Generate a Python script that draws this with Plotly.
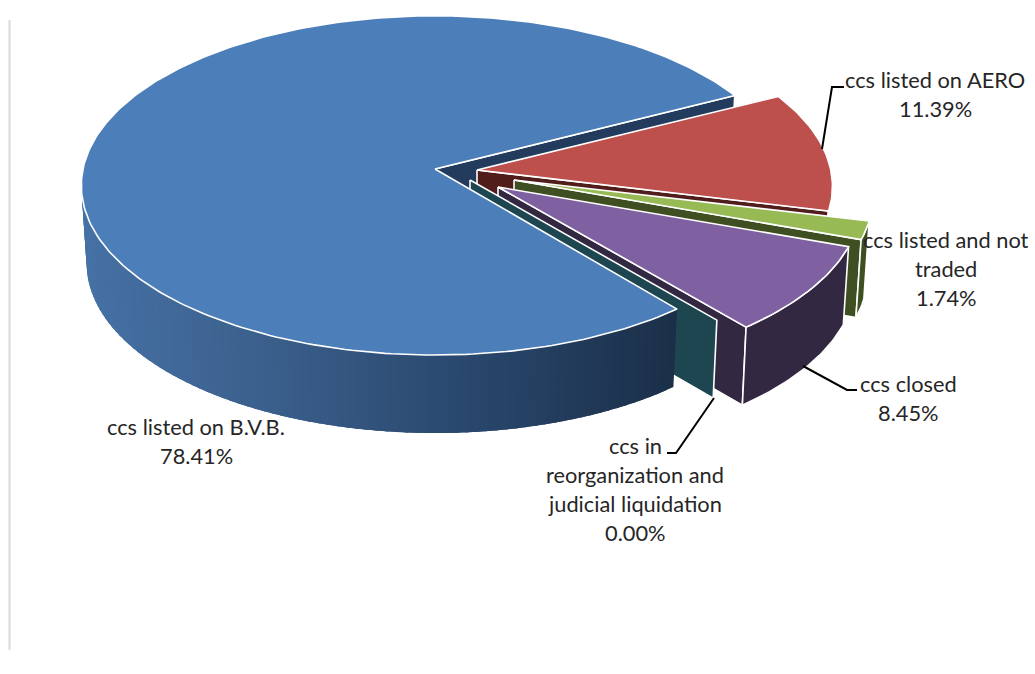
import numpy as np
import plotly.graph_objects as go

# --- data ---
CATEGORIES = ["ccs listed on B.V.B.", "ccs listed on AERO", "ccs listed and not traded",
              "ccs closed", "ccs in reorganization and judicial liquidation"]
VALUES = [78.41, 11.39, 1.74, 8.45, 0.00]
LABEL_LINES = [["ccs listed on B.V.B."], ["ccs listed on AERO"], ["ccs listed and not", "traded"],
               ["ccs closed"], ["ccs in", "reorganization and", "judicial liquidation"]]

TOP_COLORS = ["#4C7FBA", "#BD4F4C", "#97BA55", "#7F60A0", "#1D4650"]
WALL_COLORS = ["#233C5E", "#511D1B", "#3F4F22", "#332842", "#1D4650"]

# --- projection of the exploded 3-D pie (pixel space) ---
R, CR, K, H, S = 352.0, 168.0, 0.097, 78.0, 0.985
START_DEG = 27.2
TIPS = [(435, 169), (477, 170), (514, 180), (498, 187), (470, 180)]
X_SCALE = [1.0, 1.005, 1.015, 1.025, 1.02]
LABEL_POS = [(196, 426), (935, 79), (946, 239), (908, 383), (635, 445)]
LINE_STEP = 29


def proj(i, deg, bottom=False):
    tip = TIPS[i]
    t = np.radians(deg)
    x, y = np.cos(t), np.sin(t)
    w = 1 + K * y
    dx, dy = R * X_SCALE[i] * x / w, -CR * y / w
    if bottom:
        return tip[0] + dx * S, tip[1] + dy + H
    return tip[0] + dx, tip[1] + dy


def arc(i, a0, a1, bottom=False):
    n = max(2, int(abs(a1 - a0) / 1.0) + 2)
    pts = [proj(i, a, bottom) for a in np.linspace(a0, a1, n)]
    return [p[0] for p in pts], [p[1] for p in pts]


fig = go.Figure()


def poly(xs, ys, fill, line="white", width=1.6):
    fig.add_trace(go.Scatter(x=list(xs) + [xs[0]], y=list(ys) + [ys[0]], mode="lines", fill="toself",
                             fillcolor=fill, line=dict(color=line, width=width),
                             hoverinfo="skip", showlegend=False))


def top(i, a0, a1):
    ax, ay = arc(i, a0, a1)
    poly([TIPS[i][0]] + ax, [TIPS[i][1]] + ay, TOP_COLORS[i])


def wall(i, deg):
    tip = TIPS[i]
    rx, ry = proj(i, deg)
    bx, by = proj(i, deg, True)
    poly([tip[0], rx, bx, tip[0]], [tip[1], ry, by, tip[1] + H], WALL_COLORS[i])


def rim(i, a0, a1):
    ax, ay = arc(i, a0, a1)
    bx, by = arc(i, a1, a0, True)
    poly(ax + bx, ay + by, WALL_COLORS[i])


total = sum(VALUES)
spans = [v / total * 360 for v in VALUES]
# clockwise from the top edge of the blue slice: AERO, not traded, closed, reorganization, then B.V.B.
a_red0 = START_DEG
a_red1 = a_red0 - spans[1]
a_grn1 = a_red1 - spans[2]
a_pur1 = a_grn1 - spans[3]
a_tea1 = a_pur1 - spans[4]
a_blu1 = a_tea1 - spans[0]

# painter's order, back to front
wall(0, a_red0)
wall(1, a_red1)
rim(1, a_red1, a_red1 + 14)
top(1, a_red0, a_red1)
wall(2, a_grn1)
rim(2, a_red1, a_grn1)
top(2, a_red1, a_grn1)
wall(3, a_pur1)
wall(4, a_tea1)
rim(3, a_grn1, a_pur1)
top(3, a_grn1, a_pur1)

# blue rim, shaded left to right; every strip overlaps the next so no seams show
SHADE_X = [81, 280, 450, 680]
SHADE_RGB = [(71, 114, 166), (58, 94, 138), (43, 74, 112), (27, 47, 72)]
edges = np.arange(a_tea1, -195, -1.5)
for a, b in zip(edges[:-1], edges[1:]):
    mx = proj(0, (a + b) / 2)[0]
    c = [int(np.interp(mx, SHADE_X, [s[j] for s in SHADE_RGB])) for j in range(3)]
    col = f"rgb({c[0]},{c[1]},{c[2]})"
    tx, ty = arc(0, a, b - 2)
    ux, uy = arc(0, b - 2, a, True)
    poly(tx + ux, ty + uy, col, line=col, width=0)
top(0, a_blu1, a_tea1)

# labels, one annotation per line
for lines, v, (cx, y0) in zip(LABEL_LINES, VALUES, LABEL_POS):
    for n, txt in enumerate(lines + [f"{v:.2f}%"]):
        fig.add_annotation(x=cx, y=y0 + n * LINE_STEP, text=txt, showarrow=False, xanchor="center",
                           yanchor="middle", font=dict(family="Lato", size=21.8, color="#262626"))


def leader(points):
    d = "M " + " L ".join(f"{x},{y}" for x, y in points)
    fig.add_shape(type="path", path=d, line=dict(color="black", width=2), xref="x", yref="y")


leader([(844, 87), (832, 87), (822, 149)])
leader([(803, 366), (847, 390), (857, 390)])
leader([(667, 453), (676, 453), (714, 398)])
fig.add_shape(type="line", x0=9.5, x1=9.5, y0=20, y1=650, line=dict(color="#D9D9D9", width=2), xref="x", yref="y")

fig.update_layout(width=1035, height=674, margin=dict(l=0, r=0, t=0, b=0), paper_bgcolor="white",
                  plot_bgcolor="white", showlegend=False,
                  xaxis=dict(range=[0, 1035], visible=False, fixedrange=True),
                  yaxis=dict(range=[674, 0], visible=False, fixedrange=True))
fig.write_html("out.html", post_script="document.body.style.margin='0';document.body.style.overflow='hidden';",
               config={"displayModeBar": False})
